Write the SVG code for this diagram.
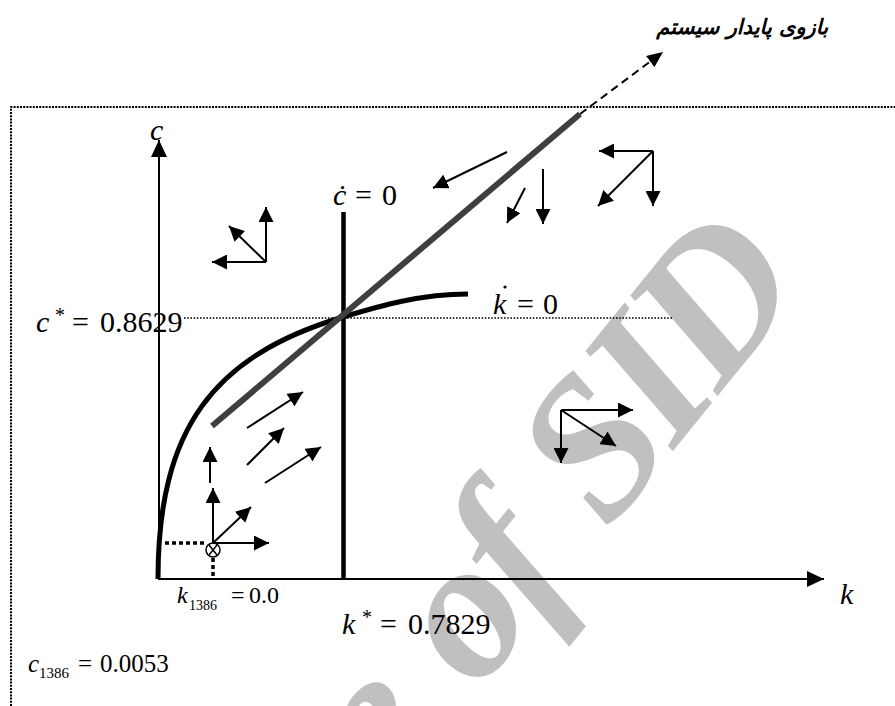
<svg xmlns="http://www.w3.org/2000/svg" width="895" height="706" viewBox="0 0 895 706">
<style>
.a{stroke:#000;stroke-width:2;fill:none;marker-end:url(#ah)}
.frame{stroke:#000;stroke-width:2;stroke-dasharray:2 1.2;fill:none}
</style>
<defs>
<marker id="ah" markerUnits="userSpaceOnUse" markerWidth="16" markerHeight="15" refX="15" refY="7.5" orient="auto" viewBox="0 0 16 15"><path d="M0,0 L15,7.5 L0,15 z" fill="#000"/></marker>
<marker id="ax" markerUnits="userSpaceOnUse" markerWidth="18" markerHeight="16" refX="17" refY="8" orient="auto" viewBox="0 0 18 16"><path d="M0,0 L17,8 L0,16 z" fill="#000"/></marker>
<marker id="ad" markerUnits="userSpaceOnUse" markerWidth="16" markerHeight="14" refX="16" refY="7" orient="auto" viewBox="0 0 16 14"><path d="M0,0 L16,7 L0,14 z" fill="#000"/></marker>
</defs>
<rect width="895" height="706" fill="#fff"/>
<g id="watermark">
<text x="805" y="288" transform="rotate(-51 805 288)" text-anchor="end" font-family="Liberation Serif, serif" font-style="italic" font-weight="bold" font-size="200" letter-spacing="-7" word-spacing="12" fill="#c0c0c0">Archive of SID</text>
</g>
<g id="frame">
<path class="frame" d="M11,706 V107 H895"/>
</g>
<g id="title">
<text x="828" y="34" text-anchor="end" font-family="DejaVu Sans, sans-serif" font-weight="bold" font-style="italic" font-size="21">بازوی پایدار سیستم</text>
</g>
<g id="axes" font-family="Liberation Serif, serif" fill="#000">
<line x1="159" y1="579" x2="159" y2="140" stroke="#000" stroke-width="2" marker-end="url(#ax)"/>
<line x1="158" y1="579" x2="824" y2="579" stroke="#000" stroke-width="2" marker-end="url(#ax)"/>
<text x="150" y="140" font-size="30" font-style="italic">c</text>
<text x="840" y="604" font-size="30" font-style="italic">k</text>
</g>
<g id="c-dot-zero" font-family="Liberation Serif, serif" fill="#000">
<line x1="343.5" y1="212" x2="343.5" y2="579" stroke="#000" stroke-width="4.5"/>
<text y="205" font-size="30"><tspan x="333" font-style="italic">ċ</tspan><tspan x="355">=</tspan><tspan x="382">0</tspan></text>
</g>
<g id="k-dot-zero" font-family="Liberation Serif, serif" fill="#000">
<path d="M158,579 C158,429 213,356 343,317 C380,306 420,294 468,294" stroke="#000" stroke-width="5" fill="none"/>
<text y="314" font-size="30"><tspan x="493" font-style="italic">k</tspan><tspan x="517">=</tspan><tspan x="543">0</tspan></text>
<circle cx="505" cy="287" r="1.6" fill="#000"/>
</g>
<g id="c-star" font-family="Liberation Serif, serif" fill="#000">
<line x1="184" y1="318" x2="673" y2="318" stroke="#000" stroke-width="1.4" stroke-dasharray="1.6 1.6"/>
<text y="332" font-size="30"><tspan x="36" font-style="italic">c</tspan><tspan x="55" y="322" font-size="20">*</tspan><tspan x="72" y="332">=</tspan><tspan x="100">0.8629</tspan></text>
</g>
<g id="k-star" font-family="Liberation Serif, serif" fill="#000">
<text y="634" font-size="30"><tspan x="342" font-style="italic">k</tspan><tspan x="362" y="624" font-size="20">*</tspan><tspan x="380" y="634">=</tspan><tspan x="408">0.7829</tspan></text>
</g>
<g id="stable-arm">
<line x1="212" y1="426" x2="580" y2="114" stroke="#3f3f3f" stroke-width="6"/>
<line x1="580" y1="114" x2="663" y2="52" stroke="#000" stroke-width="2" stroke-dasharray="8 5" marker-end="url(#ad)"/>
</g>
<g id="initial-point" font-family="Liberation Serif, serif" fill="#000">
<line x1="165" y1="543" x2="205" y2="543" stroke="#000" stroke-width="3.5" stroke-dasharray="4 3"/>
<line x1="213" y1="558" x2="213" y2="578" stroke="#000" stroke-width="3.5" stroke-dasharray="4 3"/>
<circle cx="213" cy="550" r="7" fill="#fff" stroke="#000" stroke-width="1.5"/>
<path d="M209,545 L217,555 M217,545 L209,555" stroke="#000" stroke-width="1.5"/>
<line class="a" x1="213" y1="543" x2="213" y2="488"/>
<line class="a" x1="213" y1="543" x2="269" y2="543"/>
<line class="a" x1="213" y1="543" x2="251" y2="507"/>
<text y="603" font-size="24"><tspan x="177" font-style="italic">k</tspan><tspan x="189" y="610" font-size="14">1386</tspan><tspan x="231" y="603">=</tspan><tspan x="249">0.0</tspan></text>
<text y="672" font-size="25"><tspan x="28" font-style="italic">c</tspan><tspan x="39" y="678" font-size="15">1386</tspan><tspan x="78" y="672">=</tspan><tspan x="100">0.0053</tspan></text>
</g>
<g id="connectors">
<line class="a" x1="210" y1="483" x2="210" y2="447"/>
<line class="a" x1="247" y1="428" x2="303" y2="392"/>
<line class="a" x1="247" y1="465" x2="284" y2="428"/>
<line class="a" x1="265" y1="483" x2="321" y2="447"/>
<line class="a" x1="266" y1="262" x2="266" y2="207"/>
<line class="a" x1="266" y1="262" x2="212" y2="262"/>
<line class="a" x1="266" y1="262" x2="229" y2="226"/>
<line class="a" x1="507" y1="152" x2="433" y2="188"/>
<line class="a" x1="525" y1="188" x2="507" y2="223"/>
<line class="a" x1="543" y1="169" x2="543" y2="224"/>
<line class="a" x1="653" y1="151" x2="599" y2="151"/>
<line class="a" x1="653" y1="151" x2="653" y2="206"/>
<line class="a" x1="653" y1="151" x2="598" y2="206"/>
<line class="a" x1="561" y1="410" x2="633" y2="410"/>
<line class="a" x1="561" y1="410" x2="561" y2="463"/>
<line class="a" x1="561" y1="410" x2="616" y2="446"/>
</g>
</svg>
